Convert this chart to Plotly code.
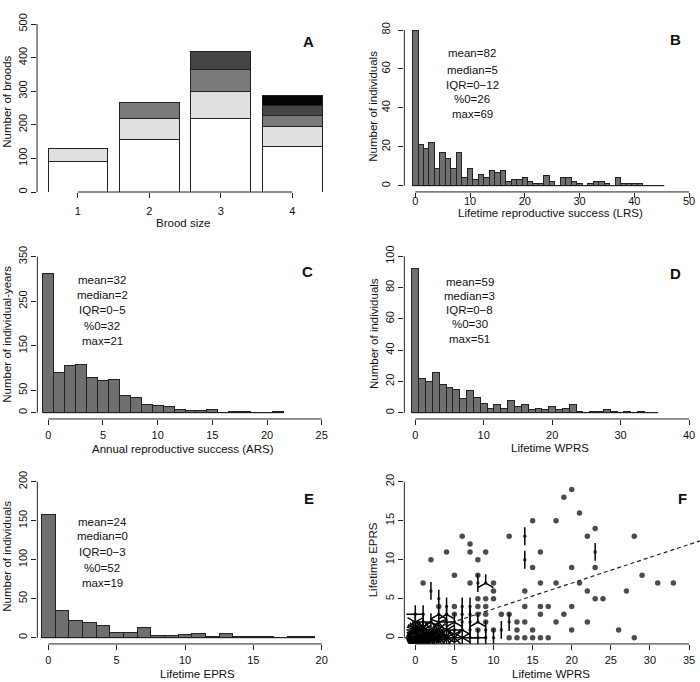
import math

import plotly.graph_objects as go

W, H = 700, 682
FONT = "Liberation Sans, Arial, Helvetica, sans-serif"

# ---- data ----
# A: number of broods by brood size, stacked segments (bottom to top)
brood_size = [1, 2, 3, 4]
stack_1 = [90, 157, 220, 135]
stack_2 = [38, 63, 80, 60]
stack_3 = [None, 45, 65, 33]
stack_4 = [None, None, 53, 30]
stack_5 = [None, None, None, 30]
stack_colors = ["#ffffff", "#e0e0e0", "#7a7a7a", "#454545", "#050505"]

# B: lifetime reproductive success, counts for values 0..45
lrs_counts = [80, 21, 19, 22, 9, 17, 14, 9, 17, 4, 9, 3, 6, 4, 8, 7, 8, 2, 3, 3,
              4, 2, 1, 1, 5, 2, 0, 4, 4, 2, 1, 0, 1, 2, 2, 1, 0, 4, 1, 1,
              1, 1, 0, 0, 0, 0]
# C: annual reproductive success, counts for values 0..21
ars_counts = [313, 90, 106, 109, 79, 72, 74, 39, 34, 19, 17, 13, 7, 6, 5, 8,
              1, 2, 2, 0, 0, 2]
# D: lifetime WPRS, counts for values 0..35
wprs_counts = [92, 22, 20, 26, 18, 16, 15, 9, 14, 10, 6, 3, 5, 3, 8, 4, 5, 2,
               3, 2, 4, 2, 3, 5, 1, 0, 1, 1, 2, 1, 0, 1, 0, 1, 0, 0]
# E: lifetime EPRS, counts for values 0..19
eprs_counts = [158, 35, 22, 19, 15, 7, 7, 13, 3, 3, 4, 6, 1, 6, 1, 2, 1, 0, 1, 1]

stats_b = ["mean=82", "median=5", "IQR=0\u221212", "%0=26", "max=69"]
stats_c = ["mean=32", "median=2", "IQR=0\u22125", "%0=32", "max=21"]
stats_d = ["mean=59", "median=3", "IQR=0\u22128", "%0=30", "max=51"]
stats_e = ["mean=24", "median=0", "IQR=0\u22123", "%0=52", "max=19"]

# F: sunflower plot, (WPRS, EPRS, number of individuals)
f_wprs = [0, 1, 2, 3, 4, 5, 6, 7, 8, 9, 10,
          0, 1, 2, 3, 4, 5, 6, 7, 8, 9, 10, 11,
          0, 1, 2, 3, 4, 5, 6, 7, 8, 9, 12, 13, 14, 18, 22,
          0, 1, 3, 4, 5, 6, 7, 8, 9, 11, 12, 16, 19,
          3, 4, 5, 6, 7, 8, 9, 14, 16, 17, 20,
          3, 8, 9, 10, 23, 24,
          2, 10, 14, 22, 27,
          1, 7, 8, 9, 10, 16, 18, 21, 31, 33,
          5, 8, 29,
          15, 20, 23,
          2, 8, 14,
          4, 7, 9, 16, 23,
          7,
          6, 12, 14, 22, 28,
          23, 15, 18, 21, 19, 20,
          12, 13, 14, 15, 16, 17, 28,
          13, 15, 20, 26]
f_eprs = [0, 0, 0, 0, 0, 0, 0, 0, 0, 0, 0,
          1, 1, 1, 1, 1, 1, 1, 1, 1, 1, 1, 1,
          2, 2, 2, 2, 2, 2, 2, 2, 2, 2, 2, 2, 2, 2, 2,
          3, 3, 3, 3, 3, 3, 3, 3, 3, 3, 3, 3, 3,
          4, 4, 4, 4, 4, 4, 4, 4, 4, 4, 4,
          5, 5, 5, 5, 5, 5,
          6, 6, 6, 6, 6,
          7, 7, 7, 7, 7, 7, 7, 7, 7, 7,
          8, 8, 8,
          9, 9, 9,
          10, 10, 10,
          11, 11, 11, 11, 11,
          12,
          13, 13, 13, 13, 13,
          14, 15, 15, 16, 18, 19,
          0, 0, 0, 0, 0, 0, 0,
          1, 1, 1, 1]
f_count = [55, 30, 20, 16, 12, 8, 6, 4, 4, 2, 2,
           20, 12, 9, 8, 6, 4, 3, 2, 1, 2, 1, 2,
           6, 4, 3, 5, 4, 3, 2, 2, 3, 1, 2, 1, 1, 1, 1,
           4, 2, 3, 3, 1, 2, 2, 1, 1, 1, 1, 1, 1,
           1, 2, 1, 2, 2, 1, 1, 1, 1, 1, 1,
           2, 1, 1, 1, 1, 1,
           2, 1, 1, 1, 1,
           1, 1, 2, 3, 1, 1, 1, 1, 1, 1,
           1, 1, 1,
           1, 1, 1,
           1, 1, 2,
           1, 1, 1, 1, 2,
           1,
           1, 1, 2, 1, 1,
           1, 1, 1, 1, 1, 1,
           1, 1, 1, 1, 1, 1, 1,
           1, 1, 1, 1]
reg_intercept = 0.40
reg_slope = 0.33

# ---- panel geometry: (value, pixel) anchors -> axis domains ----
panels = [
    dict(xa=(0.5833, 48, 4.4167, 322), xr=[0.43, 4.57], ya=(0, 192, 500, 24), yr=[0, 500],
         xt=[1, 2, 3, 4], yt=[0, 100, 200, 300, 400, 500], xs=4, ys=0),
    dict(xa=(0, 415.3, 50, 689), xr=[-2, 52], ya=(0, 185.7, 80, 30), yr=[-3.2, 83.2],
         xt=[0, 10, 20, 30, 40, 50], yt=[0, 20, 40, 60, 80], xs=-6, ys=4),
    dict(xa=(0, 48.3, 25, 321.7), xr=[-1, 26], ya=(0, 412.7, 350, 256.7), yr=[-14, 364],
         xt=[0, 5, 10, 15, 20, 25], yt=[0, 50, 150, 250, 350], xs=1, ys=0),
    dict(xa=(0, 415.3, 40, 689), xr=[-1.6, 41.6], ya=(0, 412.7, 100, 256.3), yr=[-4, 104],
         xt=[0, 10, 20, 30, 40], yt=[0, 20, 40, 60, 80, 100], xs=1, ys=0),
    dict(xa=(0, 48.3, 20, 321.7), xr=[-0.8, 20.8], ya=(0, 637.7, 200, 481.7), yr=[-8, 208],
         xt=[0, 5, 10, 15, 20], yt=[0, 50, 100, 150, 200], xs=1, ys=0),
    dict(xa=(0, 415.3, 35, 689), xr=[-1.4, 36.4], ya=(0, 637.7, 20, 481.7), yr=[-0.8, 20.8],
         xt=[0, 5, 10, 15, 20, 25, 30, 35], yt=[0, 5, 10, 15, 20], xs=1, ys=0),
]


def dom(anchor, rng, size, flip):
    v0, p0, v1, p1 = anchor
    s = (p1 - p0) / (v1 - v0)
    a = p0 + (rng[0] - v0) * s
    b = p0 + (rng[1] - v0) * s
    if flip:
        a, b = 1 - a / size, 1 - b / size
    else:
        a, b = a / size, b / size
    lo, hi = sorted([a, b])
    return [max(0, lo), min(1, hi)]


def px(x):
    return x / W


def py(y):
    return 1 - y / H


fig = go.Figure()
AX = dict(color="#222", width=1)

# A: stacked bars
for seg, col in zip([stack_1, stack_2, stack_3, stack_4, stack_5], stack_colors):
    fig.add_trace(go.Bar(x=brood_size, y=seg, width=1 / 1.2, marker_color=col,
                         marker_line=dict(color="#222", width=1),
                         xaxis="x", yaxis="y"))

# B-E: histograms
for i, counts in zip([2, 3, 4, 5], [lrs_counts, ars_counts, wprs_counts, eprs_counts]):
    fig.add_trace(go.Bar(x=list(range(len(counts))), y=counts, width=1,
                         marker_color="#6f6f6f",
                         marker_line=dict(color="#222", width=1),
                         xaxis=f"x{i}", yaxis=f"y{i}"))
    # zero-count bins still show the baseline as in the original
    fig.add_shape(type="line", xref=f"x{i}", yref=f"y{i}", x0=-0.5, x1=len(counts) - 0.5,
                  y0=0, y1=0, line=AX, layer="above")

# F: sunflower plot
PETAL = 1.15
pet_x, pet_y = [], []
for x, y, n in zip(f_wprs, f_eprs, f_count):
    if n < 2:
        continue
    for k in range(1, n + 1):
        a = 2 * math.pi * k / n
        pet_x += [x, x + PETAL * math.sin(a), None]
        pet_y += [y, y + PETAL * math.cos(a), None]
fig.add_trace(go.Scatter(x=pet_x, y=pet_y, mode="lines", line=dict(color="black", width=1.5),
                         xaxis="x6", yaxis="y6"))
fig.add_trace(go.Scatter(x=f_wprs, y=f_eprs, mode="markers",
                         marker=dict(color="black", line_width=0,
                                     size=[5.5 if n == 1 else 3.5 for n in f_count]),
                         xaxis="x6", yaxis="y6"))
rx = panels[5]["xr"]
fig.add_trace(go.Scatter(x=rx, y=[reg_intercept + reg_slope * v for v in rx], mode="lines",
                         line=dict(color="#222", width=1.2, dash="4px,3px"),
                         xaxis="x6", yaxis="y6"))

# axes
layout = {}
for i, p in enumerate(panels, start=1):
    sfx = "" if i == 1 else str(i)
    common = dict(showgrid=False, zeroline=False, showline=False, ticks="outside",
                  ticklen=5, tickwidth=1, tickcolor="#222", automargin=False,
                  tickfont=dict(size=11, color="#111"), fixedrange=True)
    layout[f"xaxis{sfx}"] = dict(domain=dom(p["xa"], p["xr"], W, False), range=p["xr"],
                                 anchor=f"y{sfx}", tickvals=p["xt"],
                                 ticklabelstandoff=p["xs"], **common)
    layout[f"yaxis{sfx}"] = dict(domain=dom(p["ya"], p["yr"], H, True), range=p["yr"],
                                 anchor=f"x{sfx}", tickvals=p["yt"], tickangle=-90,
                                 ticklabelstandoff=p["ys"], **common)
    fig.add_shape(type="line", xref=f"x{sfx}", yref=f"y{sfx} domain",
                  x0=p["xt"][0], x1=p["xt"][-1], y0=0, y1=0, line=AX)
    fig.add_shape(type="line", xref=f"x{sfx} domain", yref=f"y{sfx}",
                  x0=0, x1=0, y0=p["yt"][0], y1=p["yt"][-1], line=AX)

ann = []


def text(s, x, y, size=11.5, angle=0, bold=False):
    ann.append(dict(text=f"<b>{s}</b>" if bold else s, x=px(x), y=py(y), xref="paper",
                    yref="paper", showarrow=False, xanchor="center", yanchor="middle",
                    textangle=angle, font=dict(size=size, color="#111", family=FONT)))


# panel letters
for s, x, y in [("A", 308, 42), ("B", 675, 40), ("C", 307, 271),
                ("D", 675, 273), ("E", 309, 498), ("F", 682, 498)]:
    text(s, x, y, size=15, bold=True)

# axis titles
for s, x, y in [("Brood size", 183, 223), ("Lifetime reproductive success (LRS)", 550, 213.5),
                ("Annual reproductive success (ARS)", 183, 449), ("Lifetime WPRS", 550, 448.3),
                ("Lifetime EPRS", 197, 674.3), ("Lifetime WPRS", 551, 674)]:
    text(s, x, y)
for s, x, y in [("Number of broods", 6.7, 102), ("Number of individuals", 372.7, 106),
                ("Number of individual-years", 6.7, 334), ("Number of individuals", 374, 334),
                ("Number of individuals", 6.7, 556), ("Lifetime EPRS", 373.3, 560)]:
    text(s, x, y, angle=-90)

# summary statistics
for lines, x, ys in [(stats_b, 472, [53, 70, 84.5, 99.5, 114]),
                     (stats_c, 102, [279.5, 295, 310, 326, 341]),
                     (stats_d, 470, [281.5, 296, 310, 324, 338.5]),
                     (stats_e, 102, [521.5, 536, 551.5, 567.5, 582.5])]:
    for s, y in zip(lines, ys):
        text(s, x, y)

fig.update_layout(
    width=W, height=H, margin=dict(l=0, r=0, t=0, b=0),
    paper_bgcolor="white", plot_bgcolor="white",
    barmode="stack", showlegend=False,
    font=dict(family=FONT, size=11, color="#111"),
    annotations=ann, **layout,
)

# the page's default body margin would push the figure off the window edge
fig.write_html("out.html", config={"displayModeBar": False},
               post_script="document.body.style.margin='0';")
